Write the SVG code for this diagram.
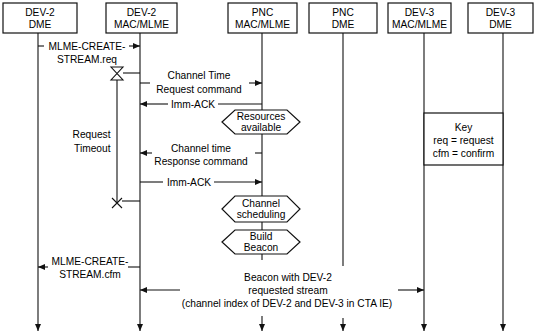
<svg xmlns="http://www.w3.org/2000/svg" width="535" height="336" viewBox="0 0 535 336">
<style>
text{font-family:"Liberation Sans",Arial,sans-serif;font-size:10.2px;fill:#000;text-anchor:middle}
.b{fill:#fff;stroke:#111;stroke-width:1.2}
.l{stroke:#111;stroke-width:1.1;fill:none}
.a{stroke:#111;stroke-width:1.1;fill:none;marker-end:url(#ah)}
</style>
<defs>
<marker id="ah" markerUnits="userSpaceOnUse" markerWidth="8" markerHeight="6" refX="7" refY="3" orient="auto">
<path d="M0,0 L7,3 L0,6 z" fill="#111"/>
</marker>
</defs>
<rect width="535" height="336" fill="#fff"/>
<g id="lifelines">
<line class="a" x1="38" y1="33" x2="38" y2="331"/>
<line class="a" x1="140" y1="33" x2="140" y2="331"/>
<line class="l" x1="262" y1="33" x2="262" y2="260"/>
<line class="a" x1="262" y1="316" x2="262" y2="331"/>
<line class="l" x1="343" y1="33" x2="343" y2="266"/>
<line class="a" x1="343" y1="318" x2="343" y2="331"/>
<line class="a" x1="424" y1="33" x2="424" y2="331"/>
<line class="a" x1="503" y1="33" x2="503" y2="331"/>
</g>
<g id="dev2dme"><rect class="b" x="3" y="3" width="74" height="30"/><text x="40" y="16">DEV-2</text><text x="40" y="28">DME</text></g>
<g id="dev2mac"><rect class="b" x="106" y="3" width="71" height="30"/><text x="141.5" y="16">DEV-2</text><text x="141.5" y="28">MAC/MLME</text></g>
<g id="pncmac"><rect class="b" x="228" y="3" width="69" height="30"/><text x="262.5" y="16">PNC</text><text x="262.5" y="28">MAC/MLME</text></g>
<g id="pncdme"><rect class="b" x="309" y="3" width="68" height="30"/><text x="343" y="16">PNC</text><text x="343" y="28">DME</text></g>
<g id="dev3mac"><rect class="b" x="388" y="3" width="63" height="30"/><text x="419.5" y="16">DEV-3</text><text x="419.5" y="28">MAC/MLME</text></g>
<g id="dev3dme"><rect class="b" x="468" y="3" width="65" height="30"/><text x="500.5" y="16">DEV-3</text><text x="500.5" y="28">DME</text></g>
<g id="resources"><polygon class="b" points="222,122 235,110 287,110 300,122 287,134 235,134"/><text x="261" y="120">Resources</text><text x="261" y="131">available</text></g>
<g id="scheduling"><polygon class="b" points="222,209 235,196 287,196 300,209 287,222 235,222"/><text x="261" y="206.5">Channel</text><text x="261" y="218">scheduling</text></g>
<g id="beacon"><polygon class="b" points="222,242 235,230 287,230 300,242 287,254 235,254"/><text x="261" y="240">Build</text><text x="261" y="251">Beacon</text></g>
<g id="key"><rect class="b" x="424" y="113" width="79" height="52"/><text x="463.5" y="131">Key</text><text x="463.5" y="144">req = request</text><text x="463.5" y="157">cfm = confirm</text></g>
<g id="timer">
<path class="l" d="M111,67 H123 L111,80 H123 Z"/>
<line class="l" x1="123" y1="73" x2="140" y2="73"/>
<line class="l" x1="117" y1="80" x2="117" y2="203"/>
<path class="l" d="M112,198 L122,208 M112,208 L122,198"/>
<line class="l" x1="122" y1="201" x2="140" y2="201"/>
<text x="110.5" y="138" style="text-anchor:end">Request</text>
<text x="110.5" y="152" style="text-anchor:end">Timeout</text>
</g>
<g id="connectors">
<line class="l" x1="38" y1="46" x2="44" y2="46"/>
<line class="a" x1="129" y1="46" x2="140" y2="46"/>
<text x="87" y="50">MLME-CREATE-</text><text x="87" y="63">STREAM.req</text>
<line class="l" x1="140" y1="83" x2="150" y2="83"/>
<line class="a" x1="249" y1="83" x2="262" y2="83"/>
<text x="199" y="79">Channel Time</text><text x="199" y="93">Request command</text>
<line class="l" x1="262" y1="104" x2="218" y2="104"/>
<line class="a" x1="168" y1="104" x2="140" y2="104"/>
<text x="193" y="107.5">Imm-ACK</text>
<line class="l" x1="262" y1="153" x2="255" y2="153"/>
<line class="a" x1="152" y1="153" x2="140" y2="153"/>
<text x="201" y="152">Channel time</text><text x="201" y="165">Response command</text>
<line class="l" x1="140" y1="182" x2="163" y2="182"/>
<line class="a" x1="214" y1="182" x2="262" y2="182"/>
<text x="189" y="185.5">Imm-ACK</text>
<line class="l" x1="140" y1="267" x2="128" y2="267"/>
<line class="a" x1="48" y1="267" x2="38" y2="267"/>
<text x="90" y="265">MLME-CREATE-</text><text x="90" y="278">STREAM.cfm</text>
<line class="a" x1="180" y1="290" x2="140" y2="290"/>
<line class="a" x1="398" y1="290" x2="424" y2="290"/>
<text x="288" y="281">Beacon with DEV-2</text><text x="288" y="294">requested stream</text><text x="287" y="307">(channel index of DEV-2 and DEV-3 in CTA IE)</text>
</g>
</svg>
